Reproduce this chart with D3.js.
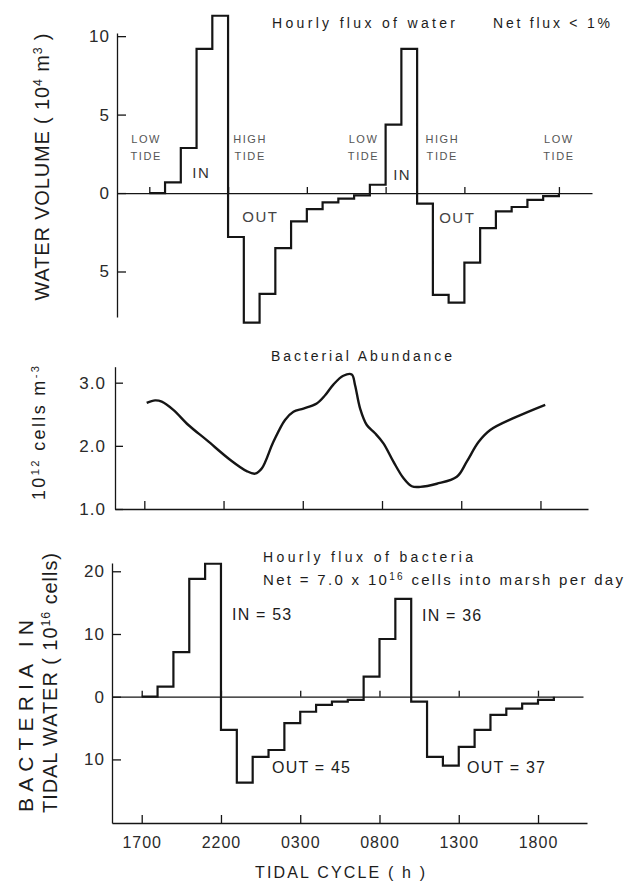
<!DOCTYPE html>
<html>
<head>
<meta charset="utf-8">
<script src="https://cdn.jsdelivr.net/npm/d3@7"></script>
<style>
  body { margin: 0; background: #fff; }
  text { font-family: "Liberation Sans", Arial, sans-serif; fill: #1c1c1c; }
</style>
</head>
<body>
<svg id="chart" width="635" height="884"></svg>
<script>
// hours counted from 1700 of the first day
const hourTicks = [0, 5, 10, 15, 20, 25];
const hourLabels = ["1700", "2200", "0300", "0800", "1300", "1800"];
const topZeroTicks = [0, 5, 10, 15, 20, 26];

// hourly flux of water (10^4 m3), one value per hour starting 1700
const waterFlux = [0, 0.68, 2.87, 9.19, 11.3, -2.8, -8.26, -6.43, -3.51, -1.81, -1.02, -0.6, -0.36,
    -0.15, 0.53, 4.36, 9.19, -0.68, -6.49, -6.98, -4.43, -2.23, -1.17, -0.89, -0.43, -0.2];
const waterTicks = [10, 5, 0, -5];

// bacterial abundance (10^12 cells m-3)
const abundHour = [0.15, 0.68, 1.1, 1.83, 2.78, 3.94, 5.41, 6.46, 6.99, 7.41, 8.14, 8.88, 9.41, 10.04,
    10.88, 11.41, 11.93, 12.56, 13.09, 13.3, 13.62, 14.04, 14.56, 15.09, 15.72, 16.35, 16.88, 17.41,
    18.46, 19.72, 20.35, 21.09, 21.83, 23.4, 25.3];
const abundValue = [2.68, 2.72, 2.70, 2.57, 2.33, 2.09, 1.78, 1.60, 1.56, 1.64, 2.06, 2.41, 2.54, 2.59,
    2.67, 2.80, 2.97, 3.11, 3.13, 2.96, 2.59, 2.33, 2.20, 2.04, 1.75, 1.49, 1.36, 1.35,
    1.40, 1.51, 1.75, 2.06, 2.25, 2.45, 2.65];
const abundTicks = [1, 2, 3];

// hourly flux of bacteria (10^16 cells)
const bactFlux = [0, 1.6, 7.1, 18.8, 21.2, -5.3, -13.7, -9.6, -8.5, -4.2, -2.4, -1.3, -0.8,
    -0.5, 3.2, 9.2, 15.6, -0.8, -9.6, -11.0, -8.0, -5.3, -2.9, -1.9, -1.1, -0.5];
const bactTicks = [20, 10, 0, -10];

const svg = d3.select("#chart");
const ink = "#151515";
const fontFam = '"Liberation Sans", Arial, sans-serif';

function stepPath(values, x, y) {
    const pts = values.map((v, i) => ({ h: i, v: v }));
    pts.push({ h: values.length, v: 0 });
    return d3.line().x(d => x(d.h)).y(d => y(d.v)).curve(d3.curveStepAfter)(pts);
}

function styleAxis(g, size) {
    g.attr("font-family", fontFam).attr("font-size", size);
    g.selectAll("path, line").attr("stroke", ink).attr("stroke-width", 1.3);
    g.selectAll("text").style("fill", "#2a2a2a").attr("letter-spacing", 1);
}

function addText(x, y, str, size, opts) {
    opts = opts || {};
    const t = svg.append("text")
        .attr("x", x).attr("y", y)
        .attr("font-size", size)
        .attr("text-anchor", opts.anchor || "start")
        .text(str);
    if (opts.len) t.attr("textLength", opts.len).attr("lengthAdjust", "spacing");
    else t.attr("letter-spacing", opts.ls || 1);
    if (opts.fill) t.style("fill", opts.fill);
    return t;
}

// rotated label made of [text, isSuperscript] pieces
function rotLabel(x, y, parts, size, len) {
    const t = svg.append("text")
        .attr("transform", `translate(${x},${y}) rotate(-90)`)
        .attr("text-anchor", "middle")
        .attr("font-size", size)
        .attr("textLength", len)
        .attr("lengthAdjust", "spacing");
    parts.forEach(p => {
        const s = t.append("tspan").text(p[0]);
        if (p[1]) s.attr("font-size", size * 0.62).attr("baseline-shift", "super");
    });
    return t;
}

// ---------- top panel: water ----------
const xTop = d3.scaleLinear().domain([-2.05, 28.1]).range([117, 592]);
const yTop = d3.scaleLinear().domain([-7.9, 10.2]).range([317, 33]);

svg.append("g")
    .attr("transform", `translate(0,${yTop(0)})`)
    .call(d3.axisBottom(xTop).tickValues(topZeroTicks).tickSize(-6).tickSizeOuter(0).tickFormat(""))
    .call(g => styleAxis(g, 10));

svg.append("g")
    .attr("transform", `translate(${xTop.range()[0]},0)`)
    .call(d3.axisLeft(yTop).tickValues(waterTicks).tickSize(-9).tickSizeOuter(0).tickPadding(7)
        .tickFormat(d => Math.abs(d)))
    .call(g => styleAxis(g, 17));

svg.append("path")
    .attr("d", stepPath(waterFlux, xTop, yTop))
    .attr("fill", "none").attr("stroke", ink).attr("stroke-width", 2.2);

rotLabel(49, 167, [["WATER VOLUME ( 10"], ["4", true], [" m"], ["3", true], [" )"]], 20, 267);

addText(272, 28, "Hourly flux of water", 14, { len: 183 });
addText(493, 28, "Net flux < 1%", 14, { len: 117 });

const tideLabels = [
    { h: -0.2, a: "LOW" }, { h: 6.4, a: "HIGH" }, { h: 13.6, a: "LOW" },
    { h: 18.6, a: "HIGH" }, { h: 26, a: "LOW" }
];
tideLabels.forEach(d => {
    addText(xTop(d.h), 143, d.a, 11, { anchor: "middle", ls: 1.6, fill: "#555" });
    addText(xTop(d.h), 160, "TIDE", 11, { anchor: "middle", ls: 1.6, fill: "#555" });
});
addText(xTop(3.3), 178, "IN", 15, { anchor: "middle", ls: 1.5, fill: "#333" });
addText(xTop(16.05), 180, "IN", 15, { anchor: "middle", ls: 1.5, fill: "#333" });
addText(xTop(7.05), 222, "OUT", 15, { anchor: "middle", ls: 1.5, fill: "#444" });
addText(xTop(19.55), 223, "OUT", 15, { anchor: "middle", ls: 1.5, fill: "#444" });

// ---------- middle panel: abundance ----------
const xMid = d3.scaleLinear().domain([-1.85, 28]).range([115, 588]);
const yMid = d3.scaleLinear().domain([1, 3.253]).range([509, 366.7]);

svg.append("g")
    .attr("transform", `translate(0,${yMid.range()[0]})`)
    .call(d3.axisBottom(xMid).tickValues(hourTicks).tickSize(-8).tickSizeOuter(0).tickFormat(""))
    .call(g => styleAxis(g, 10));

svg.append("g")
    .attr("transform", `translate(${xMid.range()[0]},0)`)
    .call(d3.axisLeft(yMid).tickValues(abundTicks).tickSize(-8).tickSizeOuter(0).tickPadding(9)
        .tickFormat(d3.format(".1f")))
    .call(g => styleAxis(g, 17));

svg.append("path")
    .datum(abundHour.map((h, i) => [h, abundValue[i]]))
    .attr("d", d3.line().x(d => xMid(d[0])).y(d => yMid(d[1])).curve(d3.curveCatmullRom.alpha(0.5)))
    .attr("fill", "none").attr("stroke", ink).attr("stroke-width", 2.4);

rotLabel(45, 433, [["10"], ["12", true], [" cells  m"], ["-3", true]], 18, 134);
addText(271, 361, "Bacterial  Abundance", 14, { len: 181 });

// ---------- bottom panel: bacteria ----------
const xBot = d3.scaleLinear().domain([-1.874, 28.09]).range([112, 587]);
const yBot = d3.scaleLinear().domain([-20.14, 21.32]).range([823, 563]);

svg.append("g")
    .attr("transform", `translate(0,${yBot.range()[0]})`)
    .call(d3.axisBottom(xBot).tickValues(hourTicks).tickSize(-8).tickSizeOuter(0).tickPadding(14)
        .tickFormat((d, i) => hourLabels[i]))
    .call(g => styleAxis(g, 16));

svg.append("g")
    .attr("transform", `translate(0,${yBot(0)})`)
    .call(d3.axisBottom(xBot.copy().range([112, 583]).domain([-1.874, 27.84]))
        .tickValues(hourTicks).tickSize(-6).tickSizeOuter(0).tickFormat(""))
    .call(g => styleAxis(g, 10));

svg.append("g")
    .attr("transform", `translate(${xBot.range()[0]},0)`)
    .call(d3.axisLeft(yBot).tickValues(bactTicks).tickSize(-9).tickSizeOuter(0).tickPadding(7)
        .tickFormat(d => Math.abs(d)))
    .call(g => styleAxis(g, 17));

svg.append("path")
    .attr("d", stepPath(bactFlux, xBot, yBot))
    .attr("fill", "none").attr("stroke", ink).attr("stroke-width", 2.2);

rotLabel(33, 716, [["BACTERIA IN"]], 21, 192);
rotLabel(57, 683, [["TIDAL WATER ( 10"], ["16", true], [" cells)"]], 20, 260);

addText(263, 562, "Hourly flux of bacteria", 14, { len: 210 });
const net = addText(263, 585, "Net = 7.0 x 10", 15, { len: 360 });
net.append("tspan").attr("font-size", 10).attr("baseline-shift", "super").text("16");
net.append("tspan").text(" cells into marsh per day");

addText(232, 620, "IN = 53", 16, { ls: 1.2 });
addText(422, 621, "IN = 36", 16, { ls: 1.2 });
addText(272, 773, "OUT = 45", 16, { ls: 1.2 });
addText(467, 773, "OUT = 37", 16, { ls: 1.2 });

addText(340, 878, "TIDAL CYCLE ( h )", 16, { anchor: "middle", len: 170 });
</script>
</body>
</html>
